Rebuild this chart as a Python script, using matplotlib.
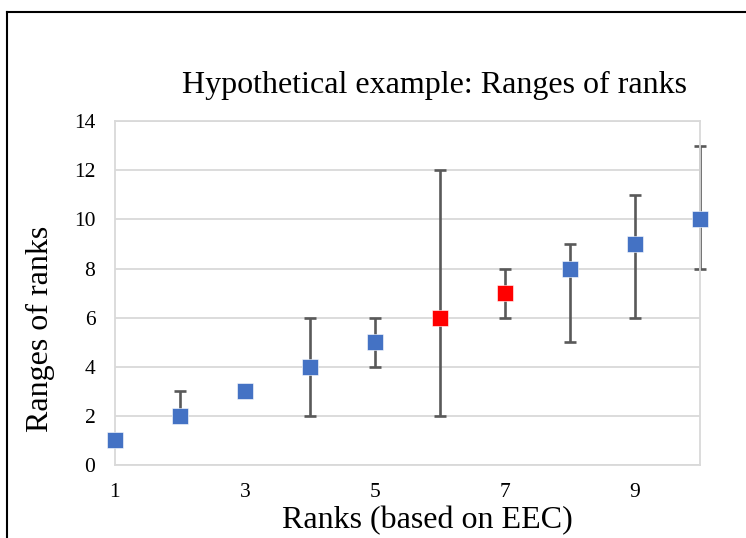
import numpy as np
import matplotlib
matplotlib.use('Agg')
import matplotlib.pyplot as plt
from matplotlib.lines import Line2D

plt.rcParams['font.family'] = ['Liberation Serif', 'DejaVu Serif']

ranks = [1, 2, 3, 4, 5, 6, 7, 8, 9, 10]
rank_low = [1, 2, 3, 2, 4, 2, 6, 5, 6, 8]
rank_high = [1, 3, 3, 6, 6, 12, 8, 9, 11, 13]
colors = ['#4472C4'] * 5 + ['#FF0000'] * 2 + ['#4472C4'] * 3
xticks = [1, 3, 5, 7, 9]
yticks = [0, 2, 4, 6, 8, 10, 12, 14]

fig = plt.figure(figsize=(7.46, 5.38), dpi=100)
ax = fig.add_axes([0.154, 0.1357, 0.784, 0.639])

x = np.array(ranks)
y = np.array(ranks)
lo = np.array(rank_low)
hi = np.array(rank_high)
has = hi > lo
eb = ax.errorbar(x[has], y[has], yerr=[y[has] - lo[has], hi[has] - y[has]], fmt='none',
                 ecolor='#595959', elinewidth=1.9, capsize=4.3, capthick=1.9, zorder=2)
for art in eb.lines[1] + eb.lines[2]:
    art.set_clip_on(False)
for xi, yi, c in zip(x, y, colors):
    ax.plot(xi, yi, marker='s', ms=11, color=c, mec='white', mew=0.4, ls='none', zorder=3, clip_on=False)

ax.set_xlim(1, 10)
ax.set_ylim(0, 14)
ax.set_xticks(xticks)
ax.set_yticks(yticks)
ax.grid(axis='y', color='#D9D9D9', lw=1.3, zorder=0)
for s in ax.spines.values():
    s.set_color('#D9D9D9')
    s.set_linewidth(1.3)
ax.tick_params(length=0, labelsize=15.5)
ax.tick_params(axis='x', pad=13)
ax.tick_params(axis='y', pad=14)

ax.text(0.547, 1.105, 'Hypothetical example: Ranges of ranks', transform=ax.transAxes,
        fontsize=23, ha='center', va='center')
ax.set_xlabel('Ranks (based on EEC)', fontsize=23)
ax.xaxis.set_label_coords(0.534, -0.162)
ax.xaxis.label.set_va('center')
ax.set_ylabel('Ranges of ranks', fontsize=23)
ax.yaxis.set_label_coords(-0.128, 0.395)
ax.yaxis.label.set_va('center')

# outer chart frame (only top and left visible)
fig.add_artist(Line2D([7/746, 7/746], [0, 1 - 12/538], color='black', lw=1.5))
fig.add_artist(Line2D([7/746, 1], [1 - 12/538, 1 - 12/538], color='black', lw=1.5))

fig.savefig('out.png', dpi=100)
